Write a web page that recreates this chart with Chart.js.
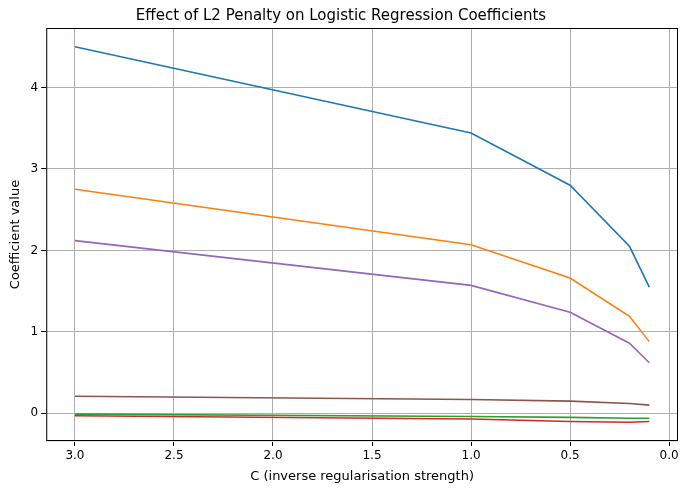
<!DOCTYPE html>
<html>
<head>
<script src="https://cdn.jsdelivr.net/npm/chart.js@4"></script>
<style>
  body { margin: 0; background: #fff; }
  #wrap { width: 688px; height: 490px; }
</style>
</head>
<body>
<div id="wrap"><canvas id="c"></canvas></div>
<script>
const cValues = [3.0, 1.0, 0.5, 0.2, 0.1];
const feature0 = [4.50, 3.44, 2.80, 2.05, 1.55];
const feature1 = [2.75, 2.07, 1.66, 1.19, 0.88];
const feature2 = [-0.01, -0.04, -0.05, -0.06, -0.06];
const feature3 = [-0.03, -0.07, -0.10, -0.11, -0.10];
const feature4 = [2.12, 1.57, 1.24, 0.86, 0.62];
const feature5 = [0.21, 0.17, 0.15, 0.12, 0.10];
const xTicks = [0, 0.5, 1, 1.5, 2, 2.5, 3];
const yTicks = [0, 1, 2, 3, 4];

const series = [
  [feature0, '#1f77b4'], [feature1, '#ff7f0e'], [feature4, '#9467bd'],
  [feature5, '#8c564b'], [feature2, '#2ca02c'], [feature3, '#d62728']
];

const frame = {
  id: 'frame',
  afterDraw(chart) {
    const a = chart.chartArea, ctx = chart.ctx;
    ctx.save();
    ctx.strokeStyle = '#000';
    ctx.lineWidth = 1;
    ctx.strokeRect(a.left + 0.5, a.top + 0.5, a.right - a.left - 1, a.bottom - a.top - 1);
    ctx.restore();
  }
};

Chart.defaults.font.family = 'DejaVu Sans';
Chart.defaults.color = '#000';

new Chart(document.getElementById('c'), {
  type: 'line',
  data: {
    datasets: series.map(([vals, col]) => ({
      data: cValues.map((x, i) => ({ x, y: vals[i] })),
      borderColor: col,
      borderWidth: 1.6,
      pointRadius: 0,
      tension: 0
    }))
  },
  options: {
    responsive: true,
    maintainAspectRatio: false,
    animation: false,
    layout: { padding: { left: 4, right: 10, top: 0, bottom: 4 } },
    plugins: {
      legend: { display: false },
      tooltip: { enabled: false },
      title: { display: true, text: 'Effect of L2 Penalty on Logistic Regression Coefficients',
               font: { size: 15, weight: 'normal' }, padding: { top: 7, bottom: 3 } }
    },
    scales: {
      x: {
        type: 'linear', reverse: true, min: -0.045, max: 3.145,
        afterBuildTicks(s) { s.ticks = xTicks.map(v => ({ value: v })); },
        ticks: { font: { size: 12 }, callback: v => v.toFixed(1), maxRotation: 0 },
        grid: { color: '#b0b0b0', tickColor: '#000', tickLength: 5 },
        title: { display: true, text: 'C (inverse regularisation strength)', font: { size: 13 }, padding: { top: 2, bottom: 2 } }
      },
      y: {
        min: -0.34, max: 4.73,
        afterBuildTicks(s) { s.ticks = yTicks.map(v => ({ value: v })); },
        ticks: { font: { size: 12 } },
        grid: { color: '#b0b0b0', tickColor: '#000', tickLength: 5 },
        title: { display: true, text: 'Coefficient value', font: { size: 13 } }
      }
    }
  },
  plugins: [frame]
});
</script>
</body>
</html>
